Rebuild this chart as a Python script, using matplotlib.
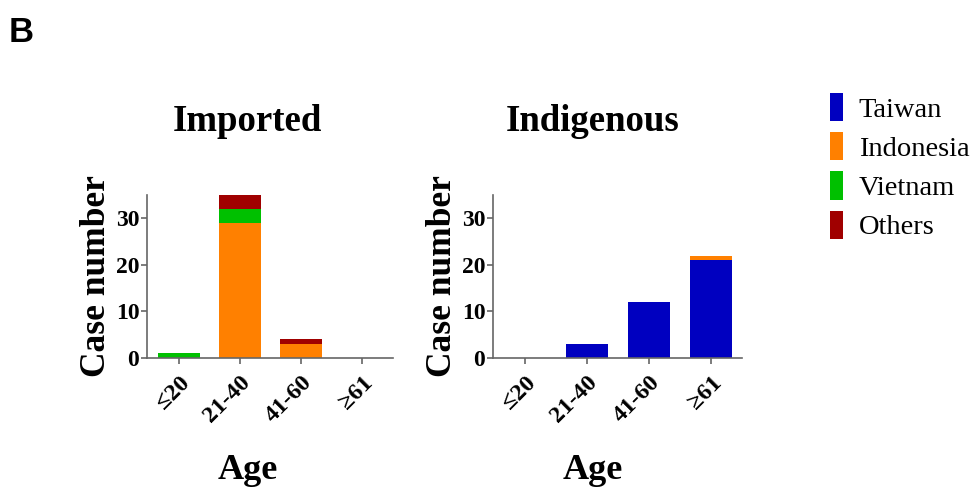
import matplotlib
matplotlib.use("Agg")
import matplotlib.pyplot as plt
from matplotlib.patches import Patch
import numpy as np

ages = ["≤20", "21-40", "41-60", "≥61"]
series = ["Taiwan", "Indonesia", "Vietnam", "Others"]
colors = {"Taiwan": "#0000C0", "Indonesia": "#FF8000", "Vietnam": "#00C000", "Others": "#A00000"}

imported = {
    "Taiwan":    [0, 0, 0, 0],
    "Indonesia": [0, 29, 3, 0],
    "Vietnam":   [1, 3, 0, 0],
    "Others":    [0, 3, 1, 0],
}
indigenous = {
    "Taiwan":    [0, 3, 12, 21],
    "Indonesia": [0, 0, 0, 1],
    "Vietnam":   [0, 0, 0, 0],
    "Others":    [0, 0, 0, 0],
}

serif = ["Liberation Serif", "DejaVu Serif"]
fig = plt.figure(figsize=(9.78, 4.95), dpi=100)

def panel(rect, data, title, tx):
    ax = fig.add_axes(rect)
    x = np.arange(len(ages))
    bottom = np.zeros(len(ages))
    for s in series:
        v = np.array(data[s], dtype=float)
        ax.bar(x, v, bottom=bottom, width=0.69, color=colors[s], edgecolor="none")
        bottom += v
    ax.set_xlim(-0.52, 3.5)
    ax.set_ylim(0, 35)
    ax.set_yticks([0, 10, 20, 30])
    ax.set_xticks(x)
    ax.set_xticklabels(ages, rotation=45, ha="right", rotation_mode="anchor",
                       fontfamily=serif, fontweight="bold", fontsize=17.5)
    for lab in ax.get_yticklabels():
        lab.set_fontfamily(serif); lab.set_fontweight("bold"); lab.set_fontsize(17)
    for sp in ["top", "right"]:
        ax.spines[sp].set_visible(False)
    for sp in ["left", "bottom"]:
        ax.spines[sp].set_color("#666666"); ax.spines[sp].set_linewidth(1.2)
    ax.tick_params(colors="#666666", labelcolor="black", length=4, width=1.2)
    ax.tick_params(axis="x", pad=6)
    ax.tick_params(axis="y", pad=1.5)
    ax.set_title(title, fontfamily=serif, fontweight="bold", fontsize=26.5, pad=46, x=tx)
    ax.set_ylabel("Case number", fontfamily=serif, fontweight="bold", fontsize=25.5, labelpad=2)
    ax.set_xlabel("Age", fontfamily=serif, fontweight="bold", fontsize=26)
    ax.xaxis.set_label_coords(tx, -0.59)
    return ax

ax1 = panel([0.1503, 0.2768, 0.2515, 0.3293], imported, "Imported", 0.41)
ax2 = panel([0.504, 0.2768, 0.2546, 0.3293], indigenous, "Indigenous", 0.40)

handles = [Patch(facecolor=colors[s], edgecolor="none", label=s) for s in series]
leg = fig.legend(handles=handles, loc="upper left", bbox_to_anchor=(0.8487, 0.812),
                 frameon=False, borderpad=0, borderaxespad=0,
                 handlelength=0.47, handleheight=1.15, handletextpad=0.54,
                 labelspacing=0.33, prop={"family": serif, "size": 20.5})

fig.text(0.009, 0.968, "B", fontfamily=["Liberation Sans", "DejaVu Sans"],
         fontweight="bold", fontsize=25, va="top", ha="left")

fig.savefig("out.png", dpi=100)
